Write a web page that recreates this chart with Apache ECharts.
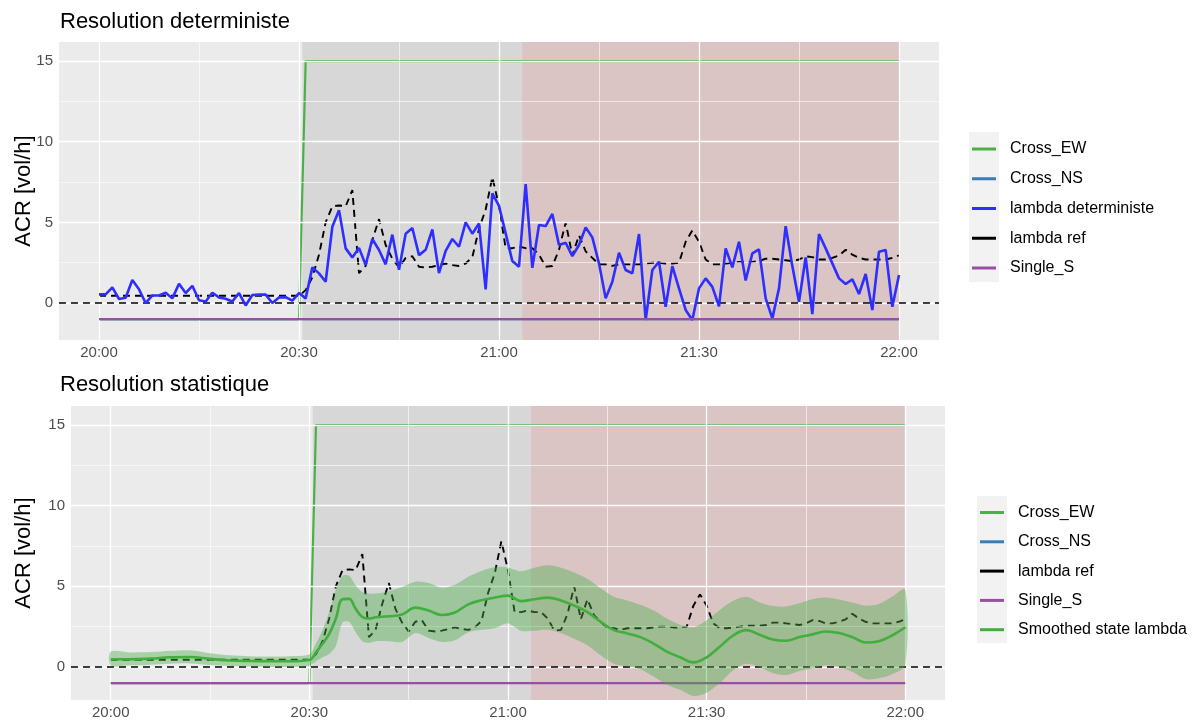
<!DOCTYPE html>
<html>
<head>
<meta charset="utf-8">
<script src="https://cdn.jsdelivr.net/npm/echarts@6/dist/echarts.min.js"></script>
<style>
html,body{margin:0;padding:0;background:#fff;}
#c{width:1195px;height:720px;}
</style>
</head>
<body>
<div id="c"></div>
<script>
// ---- data (minutes after 20:00) ----
const xTickValues = [0, 30, 60, 90, 120];
const xTickLabels = ['20:00', '20:30', '21:00', '21:30', '22:00'];
const yTickValues = [0, 5, 10, 15];

const lambdaDet = [
 0.54,0.54,0.97,0.25,0.33,1.43,0.85,0.00,0.47,0.47,
 0.64,0.29,1.20,0.62,1.07,0.17,0.10,0.64,0.35,0.27,
 0.10,0.62,-0.15,0.50,0.52,0.52,0.00,0.35,0.37,0.15,
 0.62,0.29,2.21,1.84,1.32,4.73,5.76,3.39,2.83,3.42,
 2.36,3.97,3.29,2.40,4.24,2.07,4.30,4.65,2.97,3.30,
 4.56,1.86,3.24,3.97,3.49,5.00,4.30,4.93,0.85,6.80,
 6.02,4.32,2.60,2.25,7.38,2.18,4.84,4.77,5.52,3.60,
 3.74,2.91,3.60,4.69,4.07,2.46,0.29,1.32,3.12,2.05,
 1.84,4.28,-1.05,2.05,2.56,-0.23,2.29,0.91,-0.43,-1.05,
 0.91,1.53,1.00,-0.20,3.39,2.21,3.80,1.40,3.08,3.33,
 0.29,-0.95,0.91,4.77,2.29,0.08,2.83,-0.68,4.28,3.39,
 2.46,1.53,1.18,1.47,0.56,1.80,-0.43,3.18,3.29,-0.23,
 1.74
];

const lambdaRef = [
 0.45,0.45,0.45,0.45,0.45,0.45,0.45,0.45,0.45,0.45,
 0.45,0.45,0.45,0.45,0.45,0.45,0.45,0.45,0.45,0.45,
 0.45,0.45,0.45,0.45,0.45,0.45,0.45,0.45,0.45,0.45,
 0.45,0.80,1.60,3.00,5.00,6.00,6.05,6.00,7.00,1.85,
 2.30,3.90,5.20,3.60,2.75,2.20,2.80,2.90,2.25,2.20,
 2.25,2.35,2.45,2.35,2.30,2.45,2.85,4.60,5.80,7.80,
 6.00,3.40,3.40,3.50,3.40,3.40,3.00,2.25,2.30,3.30,
 5.00,2.95,4.20,3.20,2.80,2.40,2.40,2.30,2.40,2.40,
 2.40,2.40,2.45,2.50,2.50,2.45,2.45,2.50,3.80,4.50,
 3.80,2.70,2.40,2.40,2.45,2.50,2.55,2.55,2.55,2.60,
 2.75,2.75,2.70,2.65,2.60,2.70,2.90,2.85,2.70,2.70,
 2.80,2.95,3.30,3.00,2.80,2.70,2.70,2.70,2.70,2.80,
 2.95
];

const crossEWTimes = [0, 30, 31, 120];
const crossEWValues = [-1, -1, 15, 15];
const crossNSTimes = [0, 120];
const crossNSValues = [-1, -1];
const singleSTimes = [0, 120];
const singleSValues = [-1, -1];

const smoothTimes = [0,3,6,9,12,15,18,21,24,27,30,31,32,33,34,35,36,37,38,39,40,42,44,46,48,50,52,54,56,58,60,62,64,66,68,70,72,74,76,78,80,82,84,86,88,90,92,94,96,98,100,102,104,106,108,110,112,114,116,118,120];
const smoothValues = [0.48,0.48,0.52,0.60,0.62,0.50,0.40,0.37,0.36,0.35,0.43,0.90,1.45,2.05,3.00,4.20,4.22,3.60,3.10,3.00,3.08,3.14,3.25,3.68,3.50,3.22,3.38,3.88,4.13,4.30,4.42,4.08,4.20,4.30,4.12,3.80,3.40,2.80,2.28,2.08,1.85,1.45,0.95,0.60,0.28,0.60,1.26,1.95,2.28,2.00,1.70,1.62,1.85,2.02,2.20,2.10,1.85,1.52,1.60,1.95,2.46];
const smoothUpper = [0.95,0.90,0.92,1.00,1.03,0.85,0.72,0.66,0.64,0.66,0.78,1.45,2.30,3.40,4.80,5.65,5.65,5.05,4.65,4.55,4.55,4.70,4.95,5.28,5.20,4.92,5.10,5.60,5.95,6.20,6.15,5.93,6.15,6.30,6.15,5.85,5.45,4.88,4.35,4.12,3.85,3.50,3.00,2.62,2.46,2.90,3.53,4.10,4.35,4.00,3.78,3.75,3.95,4.20,4.30,4.18,4.00,3.80,3.90,4.35,4.80];
const smoothLower = [0.10,0.10,0.14,0.20,0.22,0.12,0.06,0.02,0.00,0.00,0.08,0.35,0.60,0.80,1.30,2.75,2.80,2.15,1.60,1.50,1.60,1.60,1.55,2.10,1.80,1.55,1.65,2.15,2.30,2.40,2.70,2.25,2.25,2.30,2.10,1.75,1.35,0.72,0.20,0.04,-0.15,-0.60,-1.10,-1.42,-1.80,-1.60,-1.00,-0.20,0.20,0.00,-0.38,-0.50,-0.25,-0.10,0.10,0.00,-0.30,-0.75,-0.70,-0.45,0.12];

const phaseGrey = [30.5, 63.5];
const phasePink = [63.5, 120];

// ---- helpers ----
function pairs(times, vals) { return vals.map((v, i) => [times[i], v]); }
function perMinute(vals) { return vals.map((v, i) => [i, v]); }
const FONT = 'Liberation Sans, Arial, sans-serif';
const COL = {ew: '#4DAF4A', ns: '#377EB8', det: '#2E2EFF', ref: '#000000', s: '#984EA3', sm: '#41AE3E'};

function xAxis(g) {
  return {
    gridIndex: g, type: 'value', min: -6, max: 126,
    axisLine: {show: false},
    axisTick: {show: true, customValues: xTickValues, length: 4, lineStyle: {color: '#333', width: 1}},
    axisLabel: {customValues: xTickValues, formatter: v => xTickLabels[xTickValues.indexOf(v)],
      color: '#4D4D4D', fontSize: 15, fontFamily: FONT, margin: 5},
    splitLine: {show: false}
  };
}
function yAxis(g, mn, mx, gap) {
  return {
    gridIndex: g, type: 'value', min: mn, max: mx,
    name: 'ACR [vol/h]', nameLocation: 'middle', nameGap: gap, nameRotate: 90, nameMoveOverlap: false,
    nameTextStyle: {fontSize: 22, color: '#000', fontFamily: FONT},
    axisLine: {show: false},
    axisTick: {show: true, customValues: yTickValues, length: 4, lineStyle: {color: '#333', width: 1}},
    axisLabel: {customValues: yTickValues, color: '#4D4D4D', fontSize: 15, fontFamily: FONT, margin: 6},
    splitLine: {show: false}
  };
}
function gridLineSeries(g) {
  const major = {color: '#FFFFFF', width: 1.3, type: 'solid'};
  const minor = {color: '#FFFFFF', width: 0.6, type: 'solid'};
  const d = [];
  [0, 30, 60, 90, 120].forEach(v => d.push({xAxis: v, lineStyle: major}));
  [15, 45, 75, 105].forEach(v => d.push({xAxis: v, lineStyle: minor}));
  [0, 5, 10, 15].forEach(v => d.push({yAxis: v, lineStyle: major}));
  [2.5, 7.5, 12.5].forEach(v => d.push({yAxis: v, lineStyle: minor}));
  return {
    type: 'line', name: 'grid' + g, xAxisIndex: g, yAxisIndex: g, data: [], z: 0, silent: true,
    markLine: {silent: true, symbol: ['none', 'none'], label: {show: false}, animation: false, data: d}
  };
}
function shadeSeries(g) {
  return {
    type: 'line', name: 'shade' + g, xAxisIndex: g, yAxisIndex: g, data: [], z: 1, silent: true,
    markArea: {silent: true, animation: false, data: [
      [{xAxis: phaseGrey[0], itemStyle: {color: 'rgba(110,110,110,0.16)'}}, {xAxis: phaseGrey[1]}],
      [{xAxis: phasePink[0], itemStyle: {color: 'rgba(150,40,40,0.2)'}}, {xAxis: phasePink[1]}]
    ]}
  };
}
function lineS(name, g, data, color, width, z, dashed) {
  return {
    type: 'line', name: name, xAxisIndex: g, yAxisIndex: g, data: data, z: z,
    symbol: 'none', showSymbol: false, color: color,
    itemStyle: {color: color},
    lineStyle: {color: color, width: width, type: dashed ? [7, 5] : 'solid'},
    silent: true
  };
}
function zeroLine(g) {
  return {
    type: 'line', name: 'zero' + g, xAxisIndex: g, yAxisIndex: g, data: [], z: 10, silent: true,
    markLine: {silent: true, symbol: ['none', 'none'], label: {show: false}, animation: false,
      data: [{yAxis: 0, lineStyle: {color: '#000', width: 1.5, type: [7, 5]}}]}
  };
}
const ribbonSeries = {
  type: 'custom', name: 'ribbon', xAxisIndex: 1, yAxisIndex: 1, z: 7, silent: true,
  data: smoothTimes.map((t, i) => [t, smoothLower[i], smoothUpper[i]]),
  encode: {x: 0, y: [1, 2]},
  renderItem: function (params, api) {
    if (params.dataIndex !== 0) return null;
    const up = smoothTimes.map((t, i) => api.coord([t, smoothUpper[i]]));
    const lo = smoothTimes.map((t, i) => api.coord([t, smoothLower[i]])).reverse();
    const cs = params.coordSys;
    return {
      type: 'group',
      clipPath: {type: 'rect', shape: {x: cs.x, y: cs.y, width: cs.width, height: cs.height}},
      children: [{
        type: 'polygon',
        shape: {points: up.concat(lo), smooth: 0.3},
        style: {fill: 'rgba(77,175,74,0.42)', stroke: null}
      }]
    };
  }
};

const series = [
  gridLineSeries(0), shadeSeries(0),
  lineS('Cross_EW', 0, pairs(crossEWTimes, crossEWValues), COL.ew, 2.2, 3),
  lineS('Cross_NS', 0, pairs(crossNSTimes, crossNSValues), COL.ns, 2, 3),
  lineS('lambda ref', 0, perMinute(lambdaRef), COL.ref, 1.9, 4, true),
  lineS('lambda deterministe', 0, perMinute(lambdaDet), COL.det, 2.6, 5),
  lineS('Single_S', 0, pairs(singleSTimes, singleSValues), COL.s, 2.2, 6),
  zeroLine(0),

  gridLineSeries(1), shadeSeries(1),
  lineS('Cross_EW', 1, pairs(crossEWTimes, crossEWValues), COL.ew, 2.2, 3),
  lineS('Cross_NS', 1, pairs(crossNSTimes, crossNSValues), COL.ns, 2, 3),
  lineS('lambda ref', 1, perMinute(lambdaRef), COL.ref, 1.9, 4, true),
  lineS('Single_S', 1, pairs(singleSTimes, singleSValues), COL.s, 2.2, 6),
  ribbonSeries,
  Object.assign(lineS('Smoothed state lambda', 1, pairs(smoothTimes, smoothValues), COL.sm, 2.6, 8), {smooth: 0.4}),
  zeroLine(1)
];

const legendCommon = {
  orient: 'vertical', icon: 'rect', itemWidth: 24, itemHeight: 3, itemTextGap: 5,
  selectedMode: false, padding: 0,
  textStyle: {fontSize: 16, color: '#000', fontFamily: FONT, lineHeight: 18, padding: [0, 0, 0, 9]}
};

const option = {
  animation: false,
  backgroundColor: '#FFFFFF',
  title: [
    {text: 'Resolution deterministe', left: 60, top: 11, padding: 0, textStyle: {fontSize: 22, fontWeight: 'normal', color: '#000', fontFamily: FONT}},
    {text: 'Resolution statistique', left: 60, top: 374, padding: 0, textStyle: {fontSize: 22, fontWeight: 'normal', color: '#000', fontFamily: FONT}}
  ],
  grid: [
    {left: 59, top: 42, width: 880, height: 298, show: true, backgroundColor: '#EBEBEB', borderWidth: 0, containLabel: false, outerBoundsMode: 'none'},
    {left: 71, top: 406, width: 874, height: 294, show: true, backgroundColor: '#EBEBEB', borderWidth: 0, containLabel: false, outerBoundsMode: 'none'}
  ],
  xAxis: [xAxis(0), xAxis(1)],
  yAxis: [yAxis(0, -2.29, 16.18, 24), yAxis(1, -2.05, 16.18, 36)],
  legend: [
    Object.assign({}, legendCommon, {left: 972, top: 140, itemGap: 11.75, data: ['Cross_EW', 'Cross_NS', 'lambda deterministe', 'lambda ref', 'Single_S']}),
    Object.assign({}, legendCommon, {left: 980, top: 503.5, itemGap: 11.3, data: ['Cross_EW', 'Cross_NS', 'lambda ref', 'Single_S', 'Smoothed state lambda']})
  ],
  graphic: [
    {type: 'rect', left: 969, top: 132, shape: {width: 30, height: 150}, style: {fill: '#F2F2F2'}, z: -1, silent: true},
    {type: 'rect', left: 977, top: 496, shape: {width: 30, height: 147}, style: {fill: '#F2F2F2'}, z: -1, silent: true}
  ],
  series: series
};

const chart = echarts.init(document.getElementById('c'), null, {renderer: 'canvas'});
chart.setOption(option);
</script>
</body>
</html>
